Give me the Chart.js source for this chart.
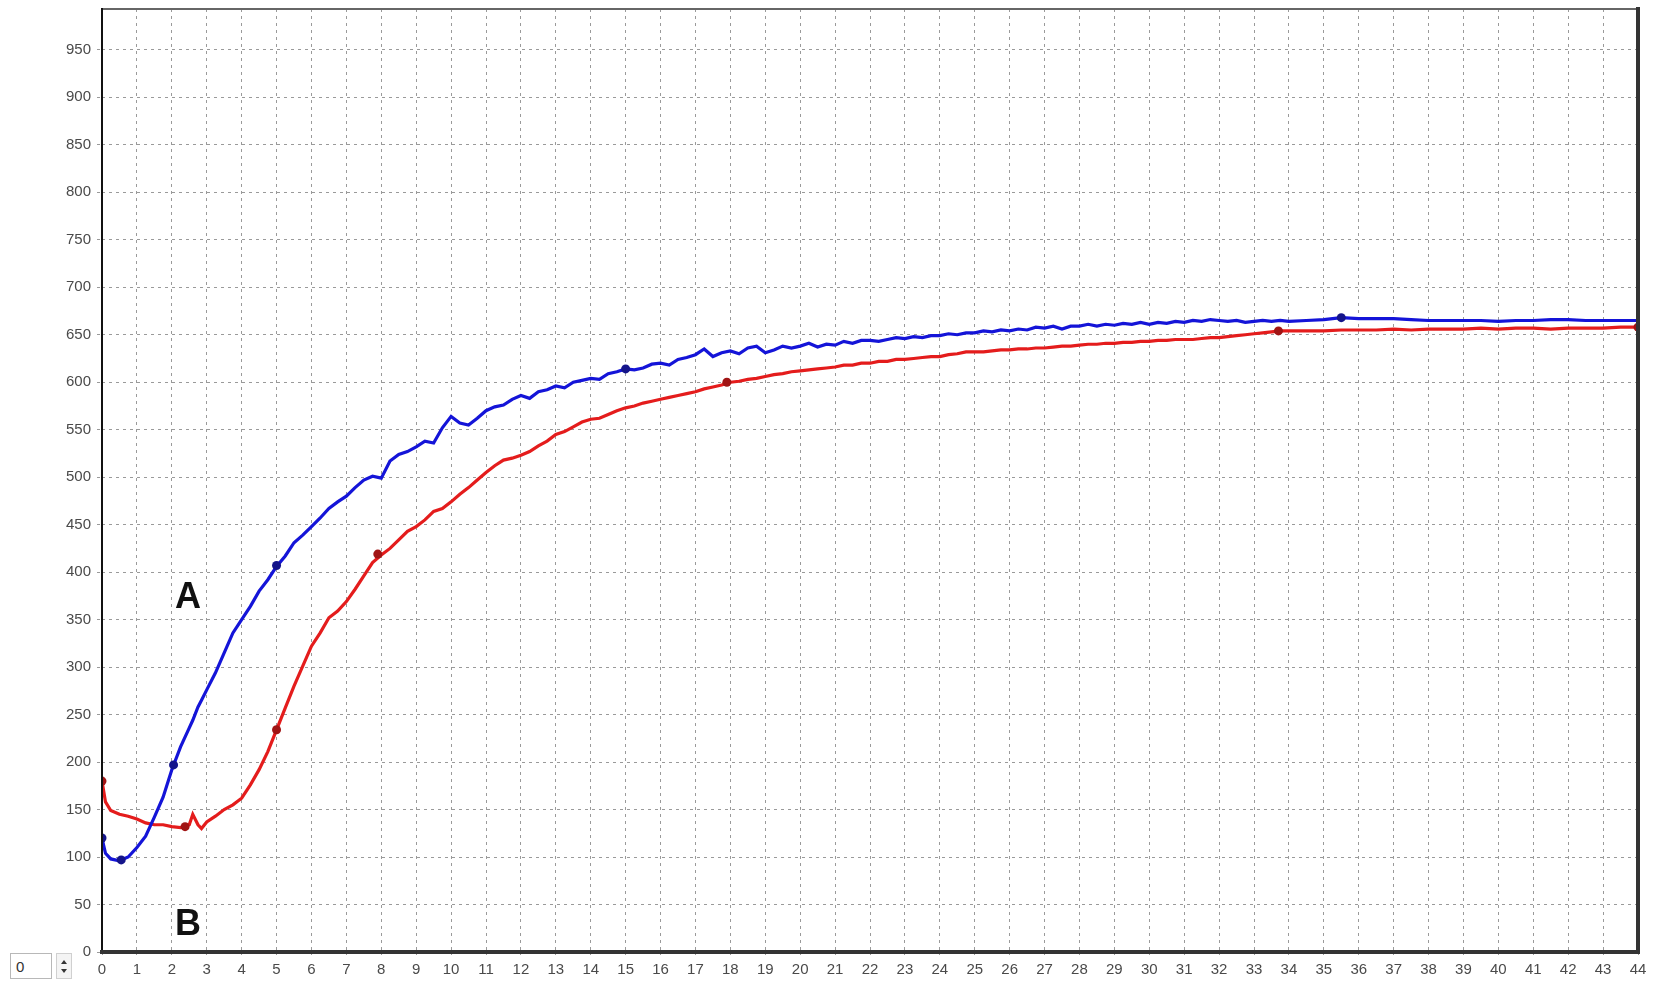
<!DOCTYPE html>
<html>
<head>
<meta charset="utf-8">
<script src="https://cdn.jsdelivr.net/npm/chart.js@4/dist/chart.umd.min.js"></script>
<style>
  html, body { margin: 0; padding: 0; background: #fff; }
  #wrap { position: relative; width: 1660px; height: 984px; }
  #plot { position: absolute; left: 0; top: 0; }
  .tag {
    position: absolute; width: 40px; text-align: center;
    font: bold 36px "Liberation Sans", Arial, sans-serif;
    line-height: 36px; color: #111;
  }
  #spin {
    position: absolute; left: 10px; top: 953px; width: 42px; height: 26px;
    border: 1px solid #b8b8b8; box-sizing: border-box;
    font: 15px "Liberation Sans", Arial, sans-serif; color: #333;
    padding: 4px 0 0 5px; background: #fff;
  }
  #spinBtn {
    position: absolute; left: 56px; top: 953px; width: 16px; height: 26px;
    border: 1px solid #d0d0d0; box-sizing: border-box; background: #f4f4f4;
  }
  .up, .down {
    position: absolute; left: 4px; width: 0; height: 0;
    border-left: 3px solid transparent; border-right: 3px solid transparent;
  }
  .up { top: 6px; border-bottom: 4px solid #333; }
  .down { top: 15px; border-top: 4px solid #333; }
</style>
</head>
<body>
<div id="wrap">
  <canvas id="plot" width="1660" height="984"></canvas>
  <div class="tag" style="left:168px; top:578px;">A</div>
  <div class="tag" style="left:168px; top:905px;">B</div>
  <div id="spin">0</div>
  <div id="spinBtn"><div class="up"></div><div class="down"></div></div>
</div>
<script>
// sample times (shared by both traces), one row per unit
const time = [
  0, 0.1, 0.25, 0.5, 0.75,
  1, 1.25, 1.5, 1.75,
  2, 2.25, 2.5, 2.6, 2.75, 2.85,
  3, 3.25, 3.5, 3.75,
  4, 4.25, 4.5, 4.75,
  5, 5.25, 5.5, 5.75,
  6, 6.25, 6.5, 6.75,
  7, 7.25, 7.5, 7.75,
  8, 8.25, 8.5, 8.75,
  9, 9.25, 9.5, 9.75,
  10, 10.25, 10.5, 10.75,
  11, 11.25, 11.5, 11.75,
  12, 12.25, 12.5, 12.75,
  13, 13.25, 13.5, 13.75,
  14, 14.25, 14.5, 14.75,
  15, 15.25, 15.5, 15.75,
  16, 16.25, 16.5, 16.75,
  17, 17.25, 17.5, 17.75,
  18, 18.25, 18.5, 18.75,
  19, 19.25, 19.5, 19.75,
  20, 20.25, 20.5, 20.75,
  21, 21.25, 21.5, 21.75,
  22, 22.25, 22.5, 22.75,
  23, 23.25, 23.5, 23.75,
  24, 24.25, 24.5, 24.75,
  25, 25.25, 25.5, 25.75,
  26, 26.25, 26.5, 26.75,
  27, 27.25, 27.5, 27.75,
  28, 28.25, 28.5, 28.75,
  29, 29.25, 29.5, 29.75,
  30, 30.25, 30.5, 30.75,
  31, 31.25, 31.5, 31.75,
  32, 32.25, 32.5, 32.75,
  33, 33.25, 33.5, 33.75,
  34, 34.5, 35, 35.5, 36, 36.5, 37, 37.5, 38, 38.5, 39, 39.5,
  40, 40.5, 41, 41.5, 42, 42.5, 43, 43.5, 44
];

// trace A (blue)
const traceA = [
  120, 104, 98, 96, 100,
  110, 122, 142, 163,
  192, 216, 236, 244, 258, 265,
  276, 294, 315, 336,
  350, 364, 380, 392,
  406, 417, 431, 439,
  448, 457, 467, 474,
  480, 489, 497, 501,
  499, 517, 524, 527,
  532, 538, 536, 552,
  564, 557, 555, 562,
  570, 574, 576, 582,
  586, 583, 590, 592,
  596, 594, 600, 602,
  604, 603, 609, 611,
  614, 613, 615, 619,
  620, 618, 624, 626,
  629, 635, 627, 631,
  633, 630, 636, 638,
  631, 634, 638, 636,
  638, 641, 637, 640,
  639, 643, 641, 644,
  644, 643, 645, 647,
  646, 648, 647, 649,
  649, 651, 650, 652,
  652, 654, 653, 655,
  654, 656, 655, 658,
  657, 659, 656, 659,
  659, 661, 659, 661,
  660, 662, 661, 663,
  661, 663, 662, 664,
  663, 665, 664, 666,
  665, 664, 665, 663,
  664, 665, 664, 665,
  664, 665, 666, 668, 667, 667, 667, 666, 665, 665, 665, 665,
  664, 665, 665, 666, 666, 665, 665, 665, 665
];

// trace B (red)
const traceB = [
  180, 158, 149, 145, 143,
  140, 136, 134, 134,
  132, 131, 134, 145, 134, 130,
  137, 143, 150, 155,
  162, 176, 192, 211,
  234, 257, 280, 301,
  322, 336, 352, 359,
  369, 382, 396, 410,
  418, 425, 434, 443,
  448, 455, 464, 467,
  474, 482, 489, 497,
  505, 512, 518, 520,
  523, 527, 533, 538,
  545, 548, 553, 558,
  561, 562, 566, 570,
  573, 575, 578, 580,
  582, 584, 586, 588,
  590, 593, 595, 597,
  600, 601, 603, 604,
  606, 608, 609, 611,
  612, 613, 614, 615,
  616, 618, 618, 620,
  620, 622, 622, 624,
  624, 625, 626, 627,
  627, 629, 630, 632,
  632, 632, 633, 634,
  634, 635, 635, 636,
  636, 637, 638, 638,
  639, 640, 640, 641,
  641, 642, 642, 643,
  643, 644, 644, 645,
  645, 645, 646, 647,
  647, 648, 649, 650,
  651, 652, 653, 654,
  654, 654, 654, 655, 655, 655, 656, 655, 656, 656, 656, 657,
  656, 657, 657, 656, 657, 657, 657, 658, 658
];

// highlighted sample points on each trace
const markTimeA = [0, 0.55, 2.05, 5, 15, 35.5];
const markValueA = [120, 97, 197, 407, 614, 668];
const markTimeB = [0, 2.38, 5, 7.9, 17.9, 33.7, 44];
const markValueB = [180, 132, 234, 419, 600, 654, 658];

const xMax = 44;
const yMax = 993;

const toPoints = (xs, ys) => xs.map((x, i) => ({ x: x, y: ys[i] }));

/* ---------------- FRAME ---------------- */

const frame = {
  id: "frame",
  afterDraw(chart) {
    const { ctx, chartArea: a } = chart;
    ctx.save();
    ctx.lineCap = "square";
    // top
    ctx.strokeStyle = "#666";
    ctx.lineWidth = 2;
    ctx.beginPath(); ctx.moveTo(a.left, a.top); ctx.lineTo(a.right, a.top); ctx.stroke();
    // left
    ctx.strokeStyle = "#111";
    ctx.beginPath(); ctx.moveTo(a.left, a.top); ctx.lineTo(a.left, a.bottom); ctx.stroke();
    // right + bottom, heavier
    ctx.strokeStyle = "#333";
    ctx.lineWidth = 4;
    ctx.beginPath(); ctx.moveTo(a.right, a.top); ctx.lineTo(a.right, a.bottom); ctx.stroke();
    ctx.beginPath(); ctx.moveTo(a.left, a.bottom); ctx.lineTo(a.right, a.bottom); ctx.stroke();
    ctx.restore();
  }
};

/* ---------------- CHART ---------------- */

const gridColor = "#9a9a9a";
const tickFont = { family: "Liberation Sans, Arial, sans-serif", size: 15 };

new Chart(document.getElementById("plot"), {
  type: "scatter",
  data: {
    datasets: [
      {
        label: "A markers",
        data: toPoints(markTimeA, markValueA),
        showLine: false,
        pointRadius: 4.5,
        backgroundColor: "#14148a",
        borderWidth: 0
      },
      {
        label: "B markers",
        data: toPoints(markTimeB, markValueB),
        showLine: false,
        pointRadius: 4.5,
        backgroundColor: "#a01414",
        borderWidth: 0
      },
      {
        label: "A",
        data: toPoints(time, traceA),
        showLine: true,
        borderColor: "#1414d8",
        borderWidth: 3.2,
        pointRadius: 0,
        tension: 0
      },
      {
        label: "B",
        data: toPoints(time, traceB),
        showLine: true,
        borderColor: "#e41c1c",
        borderWidth: 3.2,
        pointRadius: 0,
        tension: 0
      }
    ]
  },
  options: {
    responsive: false,
    animation: false,
    events: [],
    layout: { padding: { left: 0, right: 22, top: 9, bottom: 0 } },
    plugins: { legend: { display: false }, tooltip: { enabled: false } },
    scales: {
      x: {
        type: "linear",
        min: 0,
        max: xMax,
        afterBuildTicks: s => { s.ticks = s.ticks.filter(t => Number.isInteger(t.value)); },
        afterFit: s => { s.height = 32; },
        ticks: { stepSize: 1, color: "#4a4a4a", font: tickFont, padding: 4, maxRotation: 0, autoSkip: false },
        grid: { color: gridColor, lineWidth: 1, tickLength: 5, tickColor: gridColor, tickBorderDash: [3, 4] },
        border: { display: false, dash: [3, 4] }
      },
      y: {
        type: "linear",
        min: 0,
        max: yMax,
        afterBuildTicks: s => { s.ticks = s.ticks.filter(t => t.value % 50 === 0); },
        afterFit: s => { s.width = 102; s.paddingTop = 0; s.paddingBottom = 0; },
        ticks: { stepSize: 50, color: "#4a4a4a", font: tickFont, padding: 6 },
        grid: { color: gridColor, lineWidth: 1, tickLength: 5, tickColor: gridColor, tickBorderDash: [3, 4] },
        border: { display: false, dash: [3, 4] }
      }
    }
  },
  plugins: [frame]
});
</script>
</body>
</html>
